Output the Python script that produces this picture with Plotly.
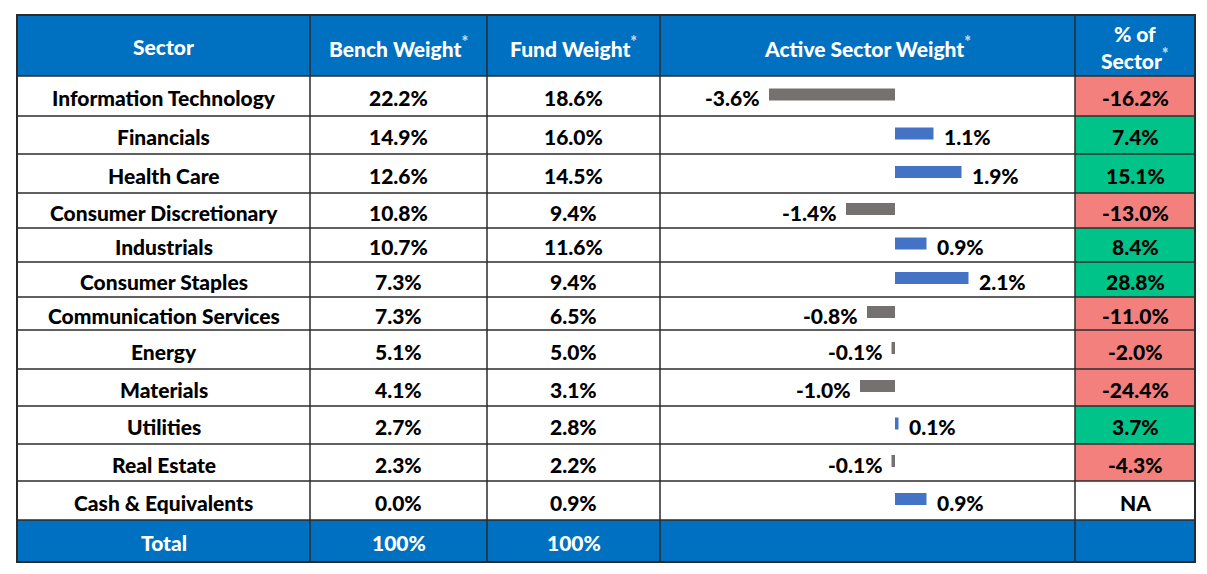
import plotly.graph_objects as go

# ---------------- data ----------------
sectors = ["Information Technology", "Financials", "Health Care", "Consumer Discretionary",
           "Industrials", "Consumer Staples", "Communication Services", "Energy",
           "Materials", "Utilities", "Real Estate", "Cash & Equivalents"]
bench_weight = [22.2, 14.9, 12.6, 10.8, 10.7, 7.3, 7.3, 5.1, 4.1, 2.7, 2.3, 0.0]
fund_weight = [18.6, 16.0, 14.5, 9.4, 11.6, 9.4, 6.5, 5.0, 3.1, 2.8, 2.2, 0.9]
active_weight = [-3.6, 1.1, 1.9, -1.4, 0.9, 2.1, -0.8, -0.1, -1.0, 0.1, -0.1, 0.9]
pct_of_sector = [-16.2, 7.4, 15.1, -13.0, 8.4, 28.8, -11.0, -2.0, -24.4, 3.7, -4.3, None]
headers = ["Sector", "Bench Weight*", "Fund Weight*", "Active Sector Weight*", "% of\nSector*"]
total_label = "Total"
total_bench = "100%"
total_fund = "100%"

# ---------------- style / layout constants ----------------
W, H = 1207, 574
col_edges = [17, 310, 487, 660, 1075, 1195]
row_edges = [76, 116, 154, 193, 228, 262, 297, 330, 369, 406, 444, 481, 520]
top, bottom = 15, 562
head_bot = row_edges[0]
body_bot = row_edges[-1]
n = len(sectors)
zero_px = 895
px_per_pct = 35.0

BLUE = "#0070C0"
RED = "#F4807D"
GREEN = "#00C389"
BAR_NEG = "#767171"
BAR_POS = "#4472C4"
LINE = "#2b2b2b"
STAR = "#C9D6E8"
FONT = "Lato, 'Open Sans', sans-serif"
FS = 21
FW = 900


def star(s):
    return s.replace("*", f"<sup><span style='color:{STAR};font-size:16px'>*</span></sup>")


def fnt(color):
    return dict(family=FONT, size=FS, color=color, weight=FW)


fig = go.Figure()
shapes = []
ann = []

# header & total backgrounds
shapes.append(dict(type="rect", x0=col_edges[0], x1=col_edges[-1], y0=top, y1=head_bot,
                   fillcolor=BLUE, line_width=0, layer="below"))
shapes.append(dict(type="rect", x0=col_edges[0], x1=col_edges[-1], y0=body_bot, y1=bottom,
                   fillcolor=BLUE, line_width=0, layer="below"))

centers_x = [(col_edges[i] + col_edges[i + 1]) / 2 for i in range(5)]
row_c = [(row_edges[i] + row_edges[i + 1]) / 2 for i in range(n)]

# header text
for j, h in enumerate(headers):
    ann.append(dict(x=centers_x[j], y=(top + head_bot) / 2 + 1, xref="x", yref="y",
                    text=star(h).replace("\n", "<br>"), showarrow=False,
                    font=fnt("white"), xanchor="center", yanchor="middle"))

# body
for i in range(n):
    yc = row_c[i]
    v = pct_of_sector[i]
    if v is not None:
        shapes.append(dict(type="rect", x0=col_edges[4], x1=col_edges[5],
                           y0=row_edges[i], y1=row_edges[i + 1],
                           fillcolor=RED if v < 0 else GREEN, line_width=0, layer="below"))
        pct_txt = f"{v:.1f}%"
    else:
        pct_txt = "NA"
    texts = [sectors[i], f"{bench_weight[i]:.1f}%", f"{fund_weight[i]:.1f}%", None, pct_txt]
    for j, t in enumerate(texts):
        if t is None:
            continue
        ann.append(dict(x=centers_x[j], y=yc + 1.5, xref="x", yref="y", text=t,
                        showarrow=False, font=fnt("black"),
                        xanchor="center", yanchor="middle"))
    a = active_weight[i]
    ann.append(dict(x=a, y=yc + 1.5, xref="x2", yref="y", text=f"{a:.1f}%",
                    showarrow=False, font=fnt("black"),
                    xanchor="right" if a < 0 else "left", xshift=-7 if a < 0 else 8,
                    yanchor="middle"))

# total row
for j, t in enumerate([total_label, total_bench, total_fund]):
    ann.append(dict(x=centers_x[j], y=(body_bot + bottom) / 2 + 1, xref="x", yref="y",
                    text=t, showarrow=False, font=fnt("white"),
                    xanchor="center", yanchor="middle"))

# grid lines
for yy in row_edges:
    shapes.append(dict(type="line", x0=col_edges[0], x1=col_edges[-1], y0=yy, y1=yy,
                       line=dict(color=LINE, width=1.5)))
for xx in col_edges[1:-1]:
    shapes.append(dict(type="line", x0=xx, x1=xx, y0=top, y1=bottom,
                       line=dict(color=LINE, width=1.5)))
shapes.append(dict(type="rect", x0=col_edges[0], x1=col_edges[-1], y0=top, y1=bottom,
                   line=dict(color=LINE, width=2), fillcolor="rgba(0,0,0,0)"))

# bars
fig.add_trace(go.Bar(
    x=active_weight, y=[c - 1.5 for c in row_c], orientation="h", width=12,
    marker=dict(color=[BAR_NEG if a < 0 else BAR_POS for a in active_weight], line_width=0),
    xaxis="x2", yaxis="y", hoverinfo="skip", showlegend=False))

lo = -(zero_px - col_edges[3]) / px_per_pct
hi = (col_edges[4] - zero_px) / px_per_pct

fig.update_layout(
    width=W, height=H, autosize=False,
    margin=dict(l=0, r=0, t=0, b=0),
    paper_bgcolor="white", plot_bgcolor="rgba(0,0,0,0)",
    xaxis=dict(range=[0, W], domain=[0, 1], visible=False, fixedrange=True),
    xaxis2=dict(range=[lo, hi], domain=[col_edges[3] / W, col_edges[4] / W], anchor="y",
                visible=False, fixedrange=True),
    yaxis=dict(range=[H, 0], domain=[0, 1], visible=False, fixedrange=True),
    shapes=shapes, annotations=ann, showlegend=False,
)

fig.write_html("out.html", config={"displayModeBar": False},
               post_script="document.body.style.margin='0';document.body.style.overflow='hidden';")
